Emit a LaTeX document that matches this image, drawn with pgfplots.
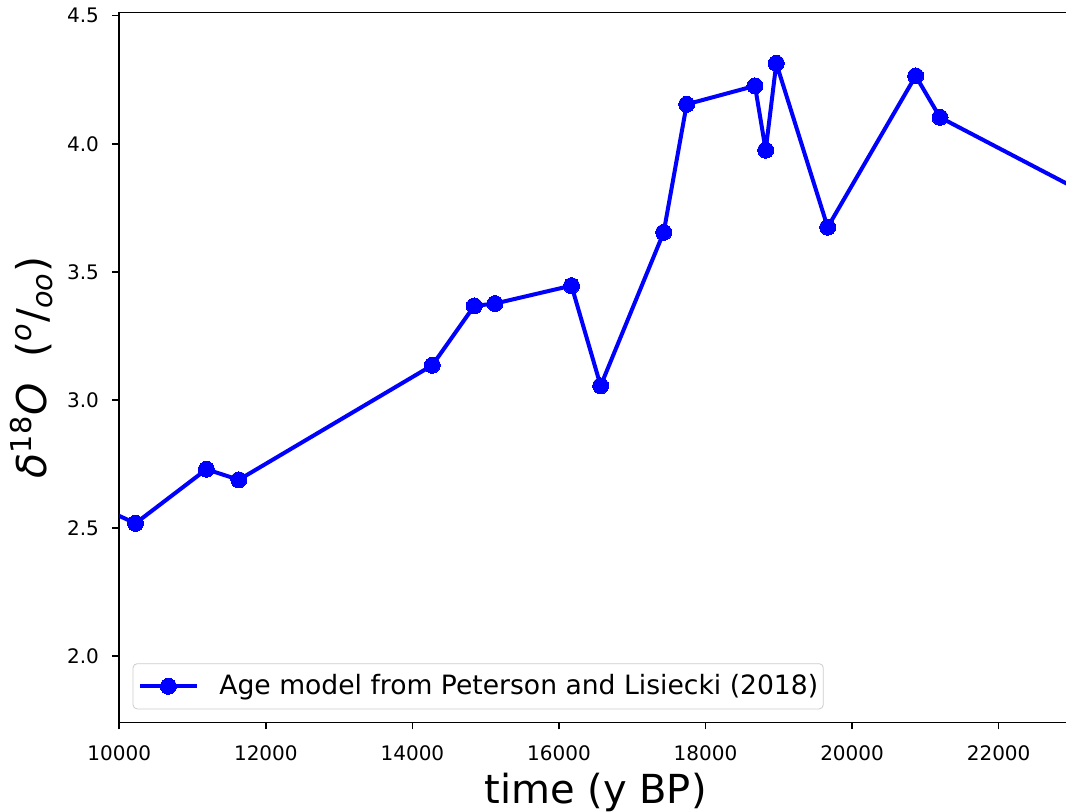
\documentclass[border=0pt]{standalone}
\usepackage{fontspec}
\setmainfont{DejaVu Sans}
\usepackage{pgfplots}
\pgfplotsset{compat=1.18}
\usetikzlibrary{calc}
\begin{document}
\begin{tikzpicture}
\begin{axis}[
  scale only axis,
  width=476.3pt, height=354.8pt,
  xmin=10000, xmax=23000, ymin=1.7411, ymax=4.5117,
  xtick={10000,12000,14000,16000,18000,20000,22000},
  ytick={2.0,2.5,3.0,3.5,4.0,4.5},
  tick align=outside, tick pos=left,
  major tick length=3.5pt,
  every tick/.style={black, line width=0.8pt},
  axis line style={line width=0.8pt},
  scaled ticks=false,
  /pgf/number format/assume math mode=true,
  xticklabel style={/pgf/number format/1000 sep={}, inner sep=0pt, anchor=north, yshift=-8.2pt},
  yticklabel style={/pgf/number format/fixed, /pgf/number format/precision=1, /pgf/number format/fixed zerofill, inner sep=0pt, anchor=east, xshift=-6.5pt},
  tick label style={font=\fontsize{10}{12}\selectfont},
  xlabel={time (y BP)},
  xlabel style={at={(rel axis cs:0.5,0)}, anchor=base, yshift=-40.5pt, font=\fontsize{20}{24}\selectfont},
  ylabel={{\itshape δ}\textsuperscript{18}{\itshape O}\ \ (\textsuperscript{\itshape o}/\textsubscript{\itshape oo})},
  ylabel style={at={(rel axis cs:0,0.5)}, anchor=center, yshift=43.9pt, font=\fontsize{20.5}{24}\selectfont},
  legend style={at={(0,0)}, anchor=south west, xshift=6.7pt, yshift=6.5pt, draw=black!20, rounded corners=2pt, fill=white, font=\fontsize{13.3}{16}\selectfont, inner xsep=2.5pt, inner ysep=5.5pt, nodes={inner sep=0pt}, column sep=10.35pt},
  legend cell align=left,
  legend image code/.code={\draw[mark repeat=2,mark phase=2,#1] plot coordinates {(0pt,0pt) (14.15pt,0pt) (28.3pt,0pt)};},
]
\addplot[color=blue, line width=2pt, line join=round, mark=*, mark size=4pt, mark options={solid, fill=blue, draw=blue, line width=0pt}] coordinates {
(9700,2.586)
(10221,2.518)
(11189,2.729)
(11631,2.688)
(14271,3.135)
(14844,3.367)
(15127,3.376)
(16171,3.446)
(16569,3.055)
(17429,3.654)
(17743,4.154)
(18675,4.226)
(18821,3.975)
(18966,4.314)
(19667,3.674)
(20868,4.265)
(21200,4.103)
(23500,3.759)
};
\addlegendentry{Age model from Peterson and Lisiecki (2018)\hspace{2.5pt}}
\coordinate (bl) at (rel axis cs:0,0);
\end{axis}
\pgfresetboundingbox
\path[use as bounding box] ($(bl)+(-59.65pt,-44.35pt)$) rectangle ($(bl)+(473.35pt,361.15pt)$);
\end{tikzpicture}
\end{document}
